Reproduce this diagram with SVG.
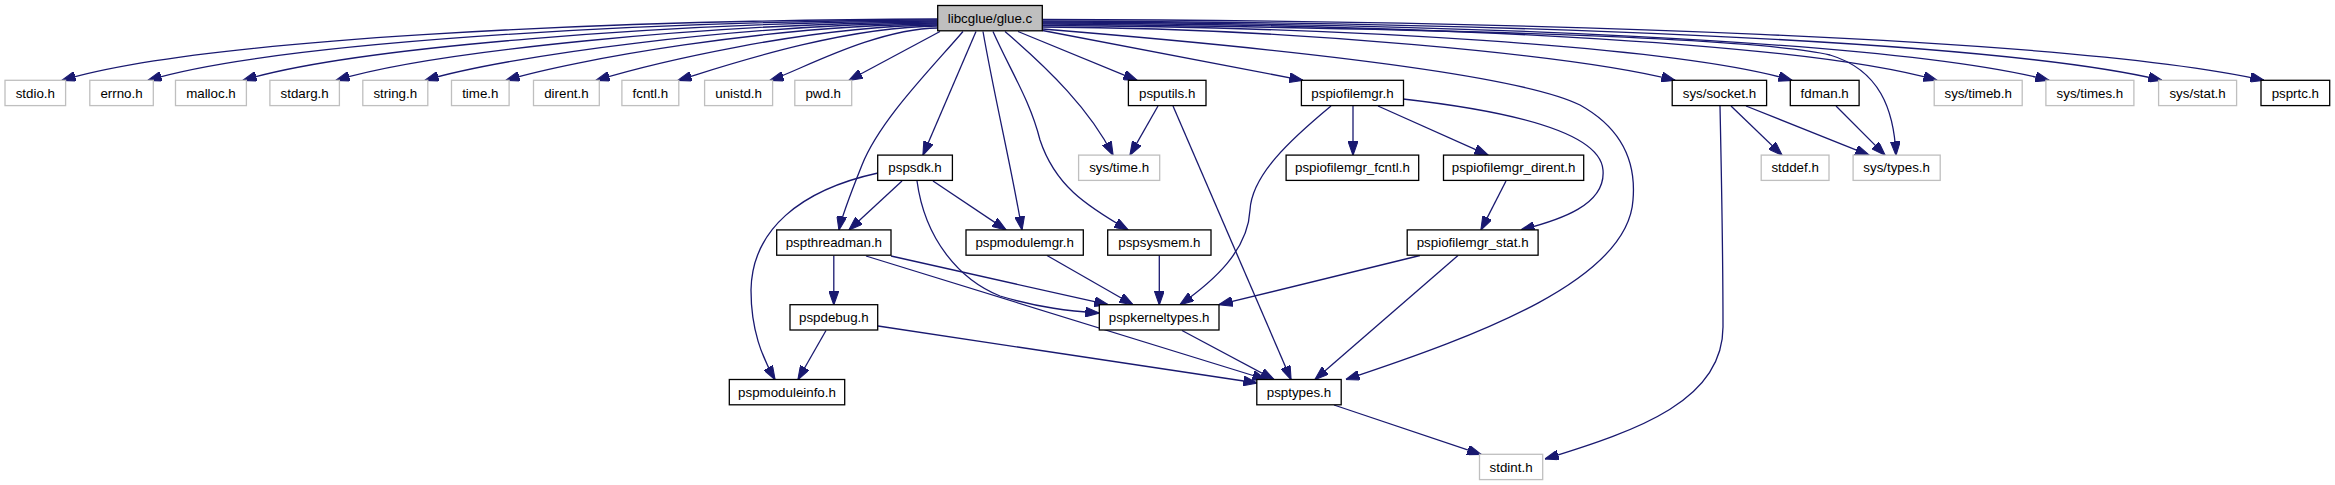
<svg xmlns="http://www.w3.org/2000/svg" width="2335" height="485" viewBox="0 0 2335 485">
<style>
rect{fill:#fff;stroke-width:1.3}
.n rect{stroke:#000}
.g rect{stroke:#bfbfbf}
.r rect{fill:#bfbfbf;stroke:#000}
text{font-family:"Liberation Sans",Arial,Helvetica,sans-serif;font-size:13.33px;text-anchor:middle;fill:#000}
#edges path{fill:none;stroke:#191970;stroke-width:1.3;marker-end:url(#a)}
</style>
<defs>
<marker id="a" markerUnits="userSpaceOnUse" markerWidth="14" markerHeight="10" viewBox="0 0 13.3 9.4" refX="13" refY="4.7" orient="auto"><path d="M0,0L13.3,4.7L0,9.4z" fill="#191970" stroke="#191970" stroke-width="1"/></marker>
</defs>
<rect x="0" y="0" width="2335" height="485" style="fill:#fff;stroke:none"/>
<g id="edges">
<path d="M938,19C596.4,20.2 198.7,39.1 62,80.3"/>
<path d="M938,20C629.9,21.2 271.2,43.2 148,80.3"/>
<path d="M938,21C666.9,22.2 351.4,47.6 243,80.3"/>
<path d="M938,22C703.2,23.2 429.9,52 336,80.3"/>
<path d="M938,23C737.9,24.1 505,56.2 425,80.3"/>
<path d="M938,24C769.5,25.1 573.4,60 506,80.3"/>
<path d="M938,25C804.6,26.1 649.4,64.2 596,80.3"/>
<path d="M938,26C836.6,27.1 718.6,68.1 678,80.3"/>
<path d="M938,28C872.5,29 796.2,72.4 770,80.3"/>
<path d="M940,31.5L849,80.3"/>
<path d="M963,31.5C930,70 880,120 862,165C850,195 842,215 839,229.9"/>
<path d="M976,31.5L923,155.1"/>
<path d="M983,31.5C995,100 1010,160 1022,229.9"/>
<path d="M993,31.5C1010,70 1030,100 1040,140C1055,185 1085,205 1128,229.9"/>
<path d="M1005,31.5C1050,70 1090,110 1113,155.1"/>
<path d="M1018,31.5L1137,80.3"/>
<path d="M1042.5,30.5L1303,80.3"/>
<path d="M1042.5,19.5C1518.9,20.7 2073.4,37.7 2264,80.3"/>
<path d="M1042.5,21C1479.1,22.2 1987.4,38.8 2162,80.3"/>
<path d="M1042.5,22C1435,23.2 1892,39.5 2049,80.3"/>
<path d="M1042.5,23C1391.4,24.1 1797.5,40.2 1937,80.3"/>
<path d="M1042.5,24C1400,28 1750,36 1830,55C1880,70 1894,110 1896,155.1"/>
<path d="M1042.5,25.5C1334.8,26.6 1675.1,46 1792,80.3"/>
<path d="M1042.5,27C1289.2,28.1 1576.3,55 1675,80.3"/>
<path d="M1042.5,29C1300,50 1520,75 1580,105C1625,130 1636,165 1633,200C1628,280 1480,335 1346,379.5"/>
<path d="M1158,106L1130,155.1"/>
<path d="M1173,106L1291,379.5"/>
<path d="M1353,106L1353,155.1"/>
<path d="M1378,106L1488,155.1"/>
<path d="M1403,99C1500,110 1600,130 1603,170C1606,205 1560,220 1521,229.9"/>
<path d="M1331,106C1290,140 1252,175 1250,210C1248,250 1215,280 1180,304.7"/>
<path d="M1506,181L1481,229.9"/>
<path d="M1420,255.5L1219,304.7"/>
<path d="M1458,255.5L1315,379.5"/>
<path d="M902,181L849,229.9"/>
<path d="M878,173C800,190 752,230 751,290C751,330 762,357 775,379.5"/>
<path d="M933,181L1006,229.9"/>
<path d="M917,181C925,240 960,280 1000,296C1040,308 1070,311 1099,313"/>
<path d="M833.8,255.5L833.8,304.7"/>
<path d="M891,256L1108,304.7"/>
<path d="M866,256L1266,379.5"/>
<path d="M1047,255.5L1133,304.7"/>
<path d="M1159.3,255.5L1159.3,304.7"/>
<path d="M826,330.5L798,379.5"/>
<path d="M878,326L1257,383"/>
<path d="M1182,330.5L1274,379.5"/>
<path d="M1334,405L1481,454.3"/>
<path d="M1720,106C1722,200 1723,280 1723,327C1723,400 1640,430 1545,459"/>
<path d="M1731,106L1782,155.1"/>
<path d="M1746,106L1869,155.1"/>
<path d="M1836,106L1885,155.1"/>
</g>
<g id="node1" class="r"><rect x="937.7" y="5.5" width="104.6" height="25.3"/><text x="990" y="22.7">libcglue/glue.c</text></g>
<g id="node2" class="g"><rect x="5" y="80.3" width="60.6" height="25.3"/><text x="35.3" y="97.5">stdio.h</text></g>
<g id="node3" class="g"><rect x="89.8" y="80.3" width="63.5" height="25.3"/><text x="121.55" y="97.5">errno.h</text></g>
<g id="node4" class="g"><rect x="175.5" y="80.3" width="70.9" height="25.3"/><text x="210.95" y="97.5">malloc.h</text></g>
<g id="node5" class="g"><rect x="269.9" y="80.3" width="69.5" height="25.3"/><text x="304.65" y="97.5">stdarg.h</text></g>
<g id="node6" class="g"><rect x="362.8" y="80.3" width="65" height="25.3"/><text x="395.3" y="97.5">string.h</text></g>
<g id="node7" class="g"><rect x="451.5" y="80.3" width="57.6" height="25.3"/><text x="480.3" y="97.5">time.h</text></g>
<g id="node8" class="g"><rect x="533.5" y="80.3" width="65.8" height="25.3"/><text x="566.4" y="97.5">dirent.h</text></g>
<g id="node9" class="g"><rect x="621.9" y="80.3" width="56.9" height="25.3"/><text x="650.35" y="97.5">fcntl.h</text></g>
<g id="node10" class="g"><rect x="704.6" y="80.3" width="68" height="25.3"/><text x="738.6" y="97.5">unistd.h</text></g>
<g id="node11" class="g"><rect x="794.8" y="80.3" width="56.9" height="25.3"/><text x="823.25" y="97.5">pwd.h</text></g>
<g id="node12" class="n"><rect x="1128.4" y="80.3" width="77.6" height="25.3"/><text x="1167.2" y="97.5">psputils.h</text></g>
<g id="node13" class="n"><rect x="1301.4" y="80.3" width="102.1" height="25.3"/><text x="1352.45" y="97.5">pspiofilemgr.h</text></g>
<g id="node14" class="n"><rect x="1672.2" y="80.3" width="94.4" height="25.3"/><text x="1719.4" y="97.5">sys/socket.h</text></g>
<g id="node15" class="n"><rect x="1790.3" y="80.3" width="68.8" height="25.3"/><text x="1824.7" y="97.5">fdman.h</text></g>
<g id="node16" class="g"><rect x="1934.2" y="80.3" width="88" height="25.3"/><text x="1978.2" y="97.5">sys/timeb.h</text></g>
<g id="node17" class="g"><rect x="2045.9" y="80.3" width="88" height="25.3"/><text x="2089.9" y="97.5">sys/times.h</text></g>
<g id="node18" class="g"><rect x="2158.6" y="80.3" width="78" height="25.3"/><text x="2197.6" y="97.5">sys/stat.h</text></g>
<g id="node19" class="n"><rect x="2261" y="80.3" width="68.7" height="25.3"/><text x="2295.35" y="97.5">psprtc.h</text></g>
<g id="node20" class="n"><rect x="877.7" y="155.1" width="74.7" height="25.3"/><text x="915.05" y="172.3">pspsdk.h</text></g>
<g id="node21" class="g"><rect x="1078.6" y="155.1" width="81.1" height="25.3"/><text x="1119.15" y="172.3">sys/time.h</text></g>
<g id="node22" class="n"><rect x="1286.1" y="155.1" width="132.6" height="25.3"/><text x="1352.4" y="172.3">pspiofilemgr_fcntl.h</text></g>
<g id="node23" class="n"><rect x="1443.5" y="155.1" width="140.2" height="25.3"/><text x="1513.6" y="172.3">pspiofilemgr_dirent.h</text></g>
<g id="node24" class="g"><rect x="1761.2" y="155.1" width="67.8" height="25.3"/><text x="1795.1" y="172.3">stddef.h</text></g>
<g id="node25" class="g"><rect x="1853.1" y="155.1" width="87.1" height="25.3"/><text x="1896.65" y="172.3">sys/types.h</text></g>
<g id="node26" class="n"><rect x="776.7" y="229.9" width="114.3" height="25.3"/><text x="833.85" y="247.1">pspthreadman.h</text></g>
<g id="node27" class="n"><rect x="966" y="229.9" width="117.3" height="25.3"/><text x="1024.65" y="247.1">pspmodulemgr.h</text></g>
<g id="node28" class="n"><rect x="1107.7" y="229.9" width="103.3" height="25.3"/><text x="1159.35" y="247.1">pspsysmem.h</text></g>
<g id="node29" class="n"><rect x="1407.2" y="229.9" width="130.9" height="25.3"/><text x="1472.65" y="247.1">pspiofilemgr_stat.h</text></g>
<g id="node30" class="n"><rect x="790" y="304.7" width="87.7" height="25.3"/><text x="833.85" y="321.9">pspdebug.h</text></g>
<g id="node31" class="n"><rect x="1099.3" y="304.7" width="119.7" height="25.3"/><text x="1159.15" y="321.9">pspkerneltypes.h</text></g>
<g id="node32" class="n"><rect x="729.3" y="379.5" width="115.4" height="25.3"/><text x="787" y="396.7">pspmoduleinfo.h</text></g>
<g id="node33" class="n"><rect x="1256.8" y="379.5" width="84.4" height="25.3"/><text x="1299" y="396.7">psptypes.h</text></g>
<g id="node34" class="g"><rect x="1479.5" y="454.3" width="63.2" height="25.3"/><text x="1511.1" y="471.5">stdint.h</text></g>
</svg>
